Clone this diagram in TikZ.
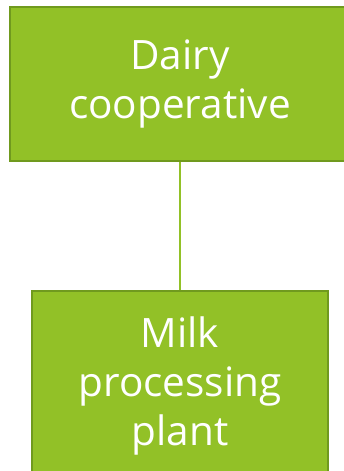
\documentclass[tikz,border=0pt]{standalone}
\usepackage{fontspec}
\setmainfont{Open Sans}
\begin{document}
\begin{tikzpicture}[x=1pt,y=1pt,
  box/.style={draw=boxedge,fill=boxfill,line width=2.5pt,text=white,align=center,
    font=\fontsize{40.5}{49}\selectfont,inner sep=0pt}]
\definecolor{boxfill}{HTML}{92C127}
\definecolor{boxedge}{HTML}{709A1E}
\useasboundingbox (0,0) rectangle (344,471);
\clip (0,0) rectangle (344,471);
\node[box,minimum width=340,minimum height=154] (coop) at (180,387) {Dairy\\cooperative};
\node[box,minimum width=296,minimum height=190] (plant) at (180,85) {Milk\\processing\\plant};
\draw[boxfill,line width=1.2pt] (coop.south) -- (plant.north);
\end{tikzpicture}
\end{document}
